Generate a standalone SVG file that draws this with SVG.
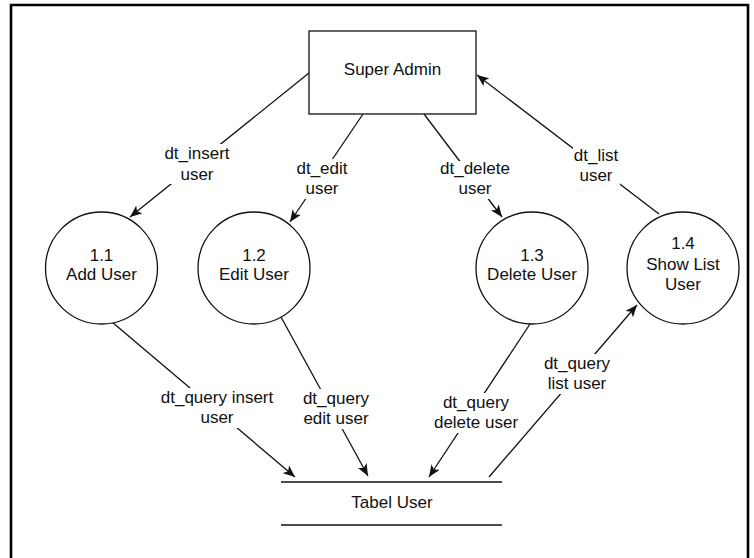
<svg xmlns="http://www.w3.org/2000/svg" width="754" height="558" viewBox="0 0 754 558">
<style>
.t{font-family:"Liberation Sans",Arial,Helvetica,sans-serif;font-size:17px;fill:#111;text-anchor:middle}
.s{fill:none;stroke:#111;stroke-width:1.3}
.n{fill:#fff;stroke:#111;stroke-width:1.3}
.bg{fill:#fff;stroke:none}
.frame{fill:none;stroke:#000;stroke-width:2.6}
</style>
<defs>
<marker id="arr" viewBox="0 0 12 10" refX="12" refY="5" markerWidth="12" markerHeight="10" orient="auto" markerUnits="userSpaceOnUse">
<path d="M0,0 L12,5 L0,10 L3,5 Z" fill="#111"/>
</marker>
</defs>
<rect width="754" height="558" fill="#fff"/>
<path class="frame" d="M11,558 V5 H748 V558"/>

<g id="connectors">
<line class="s" x1="309" y1="73" x2="130" y2="217" marker-end="url(#arr)"/>
<line class="s" x1="363" y1="114" x2="290" y2="222" marker-end="url(#arr)"/>
<line class="s" x1="424" y1="114" x2="502" y2="217" marker-end="url(#arr)"/>
<line class="s" x1="659" y1="214" x2="477" y2="75" marker-end="url(#arr)"/>
<line class="s" x1="112" y1="322" x2="295" y2="477" marker-end="url(#arr)"/>
<line class="s" x1="281" y1="317" x2="368" y2="476" marker-end="url(#arr)"/>
<line class="s" x1="530" y1="324" x2="429" y2="477" marker-end="url(#arr)"/>
<line class="s" x1="489" y1="477" x2="637" y2="305" marker-end="url(#arr)"/>

<g id="label-insert">
<rect class="bg" x="163" y="144" width="68" height="40"/>
<text class="t" x="197" y="159">dt_insert</text>
<text class="t" x="197" y="180">user</text>
</g>
<g id="label-edit">
<rect class="bg" x="296" y="159" width="53" height="40"/>
<text class="t" x="322" y="174">dt_edit</text>
<text class="t" x="322" y="194">user</text>
</g>
<g id="label-delete">
<rect class="bg" x="439" y="161" width="72" height="38"/>
<text class="t" x="475" y="174">dt_delete</text>
<text class="t" x="475" y="194">user</text>
</g>
<g id="label-list">
<rect class="bg" x="573" y="146" width="47" height="39"/>
<text class="t" x="596" y="161">dt_list</text>
<text class="t" x="596" y="181">user</text>
</g>
<g id="label-qinsert">
<rect class="bg" x="160" y="388" width="115" height="40"/>
<text class="t" x="217" y="403">dt_query insert</text>
<text class="t" x="217" y="423">user</text>
</g>
<g id="label-qedit">
<rect class="bg" x="302" y="389" width="68" height="40"/>
<text class="t" x="336" y="404">dt_query</text>
<text class="t" x="336" y="424">edit user</text>
</g>
<g id="label-qdelete">
<rect class="bg" x="433" y="393" width="86" height="40"/>
<text class="t" x="476" y="408">dt_query</text>
<text class="t" x="476" y="428">delete user</text>
</g>
<g id="label-qlist">
<rect class="bg" x="543" y="354" width="68" height="40"/>
<text class="t" x="577" y="369">dt_query</text>
<text class="t" x="577" y="389">list user</text>
</g>
</g>

<g id="super-admin">
<rect class="n" x="309" y="31" width="167" height="83"/>
<text class="t" x="392.5" y="75">Super Admin</text>
</g>

<g id="p1-1">
<circle class="n" cx="101.5" cy="268" r="56"/>
<text class="t" x="101.5" y="261">1.1</text>
<text class="t" x="101.5" y="280">Add User</text>
</g>
<g id="p1-2">
<circle class="n" cx="254" cy="268" r="56"/>
<text class="t" x="254" y="261">1.2</text>
<text class="t" x="254" y="280">Edit User</text>
</g>
<g id="p1-3">
<circle class="n" cx="532" cy="268" r="56"/>
<text class="t" x="532" y="261">1.3</text>
<text class="t" x="532" y="280">Delete User</text>
</g>
<g id="p1-4">
<circle class="n" cx="683" cy="268" r="56"/>
<text class="t" x="683" y="249">1.4</text>
<text class="t" x="683" y="269.5">Show List</text>
<text class="t" x="683" y="290">User</text>
</g>

<g id="tabel-user">
<line class="s" x1="281" y1="482" x2="502" y2="482"/>
<line class="s" x1="281" y1="525" x2="502" y2="525"/>
<text class="t" x="392" y="508">Tabel User</text>
</g>
</svg>
